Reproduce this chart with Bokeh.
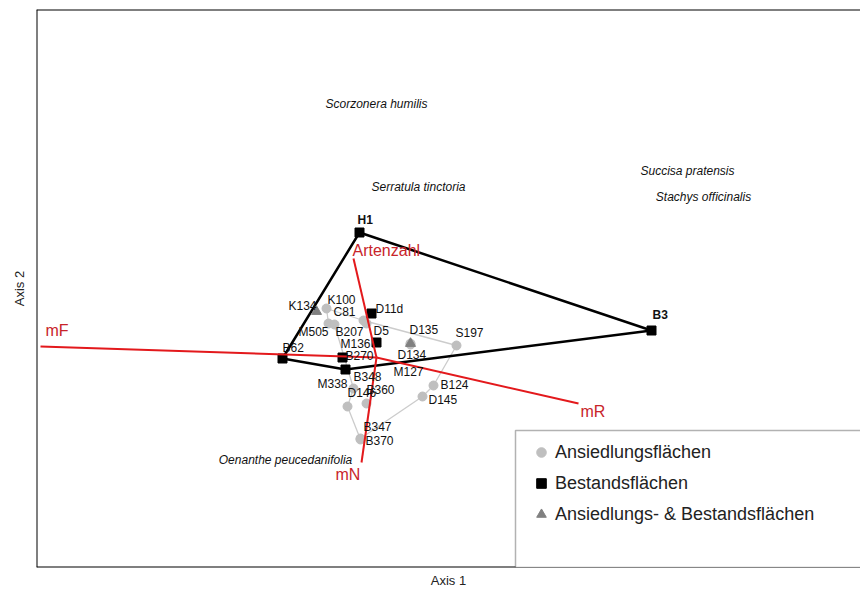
import numpy as np
from bokeh.plotting import figure
from bokeh.models import (Range1d, Span, BoxAnnotation, Legend, LegendItem,
                          FixedTicker, ColumnDataSource)
from bokeh.core.properties import value
from bokeh.embed import file_html
from bokeh.resources import INLINE

# ---------------- data (ordination scores) ----------------
site_names = ["H1", "B3", "B62", "B348", "D11d", "M136", "B270",
              "K134", "D134",
              "K100", "C81", "M505", "B207", "D5", "D135", "S197", "M127",
              "B124", "D145", "M338", "D146", "B360", "B347", "B370"]
site_axis1 = [-0.17, 2.75, -0.94, -0.31, -0.05, 0.00, -0.34,
              -0.60, 0.34,
              -0.50, -0.13, -0.48, -0.42, -0.10, 0.34, 0.80, 0.34,
              0.57, 0.46, -0.23, -0.29, -0.10, -0.16, -0.16]
site_axis2 = [1.25, 0.27, -0.01, -0.12, 0.44, 0.15, 0.00,
              0.46, 0.14,
              0.49, 0.37, 0.34, 0.33, 0.34, 0.14, 0.12, 0.13,
              -0.28, -0.39, -0.31, -0.49, -0.46, -0.81, -0.82]
site_type = ["B", "B", "B", "B", "B", "B", "B",
             "AB", "AB",
             "A", "A", "A", "A", "A", "A", "A", "A",
             "A", "A", "A", "A", "A", "A", "A"]

trajectories = [["K100", "C81", "S197", "B124", "D145", "B347"],
                ["K100", "M505", "B207", "M338", "D146", "B370"]]

env_names = ["mF", "Artenzahl", "mR", "mN"]
env_axis1 = [-3.36, -0.23, 2.02, -0.15]
env_axis2 = [0.11, 0.99, -0.46, -1.05]

species_names = ["Scorzonera humilis", "Serratula tinctoria", "Succisa pratensis",
                 "Stachys officinalis", "Oenanthe peucedanifolia"]
species_axis1 = [0.00, 0.42, 3.11, 3.27, -0.91]
species_axis2 = [2.54, 1.71, 1.87, 1.61, -1.02]

legend_labels = ["Ansiedlungsflächen", "Bestandsflächen", "Ansiedlungs- & Bestandsflächen"]

# ---------------- styles ----------------
FONT = "Liberation Sans"
RED = "#e3191c"
RED_TXT = "#c8242a"
GREY_PT = "#bfbfbf"
GREY_TRI = "#808080"

# label offsets in screen pixels (dx right, dy down)
label_off = {
    "H1": (-2, -13), "B3": (1, -16), "B62": (0, -11), "B348": (8, 7),
    "D11d": (4, -5), "M136": (-36, 1), "B270": (3, -2),
    "K134": (-28, -6), "D134": (-13, 11),
    "K100": (1, -9), "C81": (-30, -9), "M505": (-30, 8), "B207": (1, 7),
    "D5": (7, 7), "D135": (-1, -14), "S197": (-1, -13), "M127": (-17, 27),
    "B124": (7, -1), "D145": (6, 3), "M338": (-36, -5), "D146": (0, -14),
    "B360": (0, -14), "B347": (3, -12), "B370": (5, 1),
}
env_off = {"mF": (5, -16), "Artenzahl": (-1, -8), "mR": (2, 8), "mN": (-26, 12)}

XR = (-3.40, 4.84)
YR = (-2.10, 3.48)

p = figure(width=860, height=590, x_range=Range1d(*XR), y_range=Range1d(*YR),
           output_backend="svg", toolbar_location=None,
           min_border_left=36, min_border_right=0, min_border_top=9, min_border_bottom=23)
p.grid.visible = False
p.outline_line_color = None
p.background_fill_color = "white"

for ax, lab, so in ((p.xaxis, "Axis 1", 5), (p.yaxis, "Axis 2", 10)):
    ax.ticker = FixedTicker(ticks=[])
    ax.axis_line_color = None
    ax.major_tick_line_color = None
    ax.minor_tick_line_color = None
    ax.axis_label = lab
    ax.axis_label_text_font = FONT
    ax.axis_label_text_font_style = "normal"
    ax.axis_label_text_font_size = "13px"
    ax.axis_label_text_color = "#222222"
    ax.axis_label_standoff = so

# frame (left, top, bottom lines)
p.add_layout(Span(location=XR[0], dimension="height", line_color="black", line_width=2))
p.add_layout(Span(location=YR[1], dimension="width", line_color="black", line_width=2))
p.add_layout(Span(location=YR[0], dimension="width", line_color="black", line_width=2))

idx = {n: i for i, n in enumerate(site_names)}

# trajectories
for tr in trajectories:
    p.line([site_axis1[idx[n]] for n in tr], [site_axis2[idx[n]] for n in tr],
           line_color="#cccccc", line_width=1.3)

# convex hull of Bestandsflächen
pts = sorted({(site_axis1[i], site_axis2[i]) for i in range(len(site_names)) if site_type[i] == "B"})
def cross(o, a, b):
    return (a[0]-o[0])*(b[1]-o[1]) - (a[1]-o[1])*(b[0]-o[0])
lower, upper = [], []
for pt in pts:
    while len(lower) >= 2 and cross(lower[-2], lower[-1], pt) <= 0:
        lower.pop()
    lower.append(pt)
for pt in reversed(pts):
    while len(upper) >= 2 and cross(upper[-2], upper[-1], pt) <= 0:
        upper.pop()
    upper.append(pt)
hull = lower[:-1] + upper[:-1]
hull.append(hull[0])
p.line([h[0] for h in hull], [h[1] for h in hull], line_color="black", line_width=2.5)

def subset(t):
    ii = [i for i in range(len(site_names)) if site_type[i] == t]
    return ColumnDataSource(dict(x=[site_axis1[i] for i in ii], y=[site_axis2[i] for i in ii]))

r_a = p.scatter("x", "y", source=subset("A"), marker="circle", size=9,
                fill_color=GREY_PT, line_color=GREY_PT)
r_ab = p.scatter("x", "y", source=subset("AB"), marker="triangle", size=10,
                 fill_color=GREY_TRI, line_color=GREY_TRI)
r_b = p.scatter("x", "y", source=subset("B"), marker="square", size=9,
                fill_color="black", line_color="black")

# environmental vectors
p.segment(x0=[0]*len(env_names), y0=[0]*len(env_names), x1=env_axis1, y1=env_axis2,
          line_color=RED, line_width=2)
p.text(x=env_axis1, y=env_axis2, text=env_names,
       x_offset=[env_off[n][0] for n in env_names], y_offset=[env_off[n][1] for n in env_names],
       text_font=value(FONT), text_font_size="16px", text_color=RED_TXT,
       text_baseline="middle", text_align="left")

# site labels
bold = {"H1", "B3"}
for is_bold in (False, True):
    names = [n for n in site_names if (n in bold) == is_bold]
    p.text(x=[site_axis1[idx[n]] for n in names], y=[site_axis2[idx[n]] for n in names],
           text=names, x_offset=[label_off[n][0] for n in names],
           y_offset=[label_off[n][1] for n in names],
           text_font=value(FONT), text_font_size="12px", text_color="#111111",
           text_font_style="bold" if is_bold else "normal",
           text_baseline="middle", text_align="left")

# species
p.text(x=species_axis1, y=species_axis2, text=species_names,
       text_font=value(FONT), text_font_size="12px", text_font_style="italic",
       text_color="#111111", text_baseline="middle", text_align="center")

# legend box
p.add_layout(BoxAnnotation(left=1.39, right=XR[1] + 0.5, top=-0.73, bottom=YR[0],
                           fill_color="white", fill_alpha=1.0,
                           line_color="black", line_width=1.5, level="overlay"))

legend = Legend(items=[LegendItem(label=legend_labels[0], renderers=[r_a]),
                       LegendItem(label=legend_labels[1], renderers=[r_b]),
                       LegendItem(label=legend_labels[2], renderers=[r_ab])],
                location=(493, 41), orientation="vertical",
                border_line_color=None, background_fill_alpha=0.0,
                padding=0, margin=0, spacing=7,
                glyph_width=24, glyph_height=24, label_height=24, label_standoff=2,
                label_text_font=FONT, label_text_font_size="18px",
                label_text_color="#222222", level="overlay")
p.add_layout(legend, "center")

open("out.html", "w").write(file_html(p, INLINE))
